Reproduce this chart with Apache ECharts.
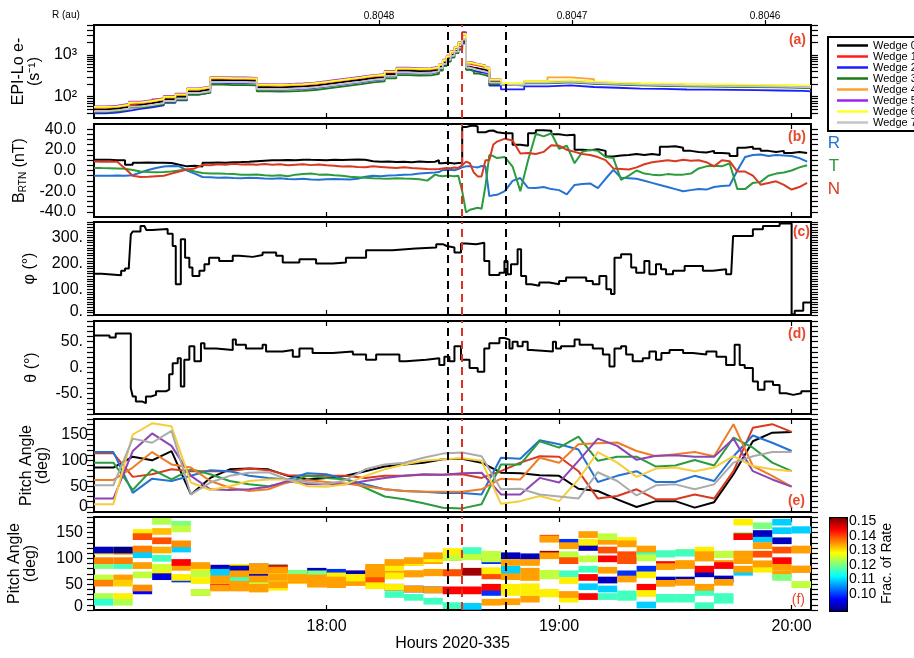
<!DOCTYPE html>
<html><head><meta charset="utf-8">
<script src="https://cdn.jsdelivr.net/npm/echarts@6/dist/echarts.min.js"></script>
<style>html,body{margin:0;padding:0;background:#fff}#c{width:914px;height:658px}</style>
</head><body><div id="c"></div>
<script>
// ---------------- DATA ----------------
const WEDGE_NAMES = ['Wedge 0','Wedge 1','Wedge 2','Wedge 3','Wedge 4','Wedge 5','Wedge 6','Wedge 7'];
const HOUR_TICKS = [18, 19, 20];
const R_TICKS = [0.8046, 0.8047, 0.8048];
const VLINES = [18.516, 18.580, 18.768];
const A_LABELS = [100, 1000];
const A_TICKS = [40,50,60,70,80,90,100,200,300,400,500,600,700,800,900,1000,2000,3000,4000,5000];
const B_LABELS = [-40, -20, 0, 20, 40];
const C_LABELS = [0, 100, 200, 300];
const D_LABELS = [-50, 0, 50];
const PA_LABELS = [0, 50, 100, 150];
const CB_LABELS = [0.10, 0.11, 0.12, 0.13, 0.14, 0.15];

// panel (a): minutes after 17:00, count rates per wedge
const A_MIN = [0,3,6,9,12,15,18,21,24,27,30,33,36,39,42,45,48,51,54,57,60,63,66,69,72,75,78,81,84,87,88,89,90,91,92,93,94,95,96,97,98,99,101,102,105,111,117,123,129,135,141,147,153,159,165,171,177,183,185];
const A_W0 = [50,52,57,64,70,78,88,100,135,150,250,245,245,240,170,168,172,176,185,200,217,235,255,280,295,350,420,410,415,430,440,520,650,800,1000,1250,1550,2100,525,500,480,440,400,229,190,215,228,209,200,192,188,182,180,178,175,172,168,165,165];
const A_W1 = [55,57,63,70,77,86,97,110,149,165,275,270,270,264,187,185,189,194,204,220,239,259,281,308,325,385,462,451,457,473,480,570,720,900,1150,1450,1900,3400,620,590,560,510,460,250,200,226,240,225,212,202,197,191,189,187,184,181,176,173,173];
const A_W2 = [40,42,46,51,56,62,71,82,112,125,215,210,212,208,148,146,150,154,162,175,190,206,224,246,260,308,370,360,365,378,380,450,560,700,880,1100,1350,1900,450,420,400,370,340,185,150,176,187,171,164,157,154,149,148,146,144,141,138,135,135];
const A_W3 = [43,45,49,55,60,66,74,84,112,125,195,190,190,186,135,132,135,138,145,157,170,184,200,220,232,275,330,322,326,338,350,420,540,690,880,1100,1400,2000,440,410,360,330,300,200,184,209,221,203,194,186,182,177,175,173,170,167,163,160,160];
const A_W4 = [56,58,64,72,78,87,99,112,151,168,280,274,274,269,190,188,193,197,207,224,243,263,286,314,330,392,470,459,465,482,490,580,740,920,1180,1500,1950,3000,650,620,590,540,480,255,205,240,290,265,215,207,203,197,194,192,189,186,181,178,178];
const A_W5 = [59,61,67,76,83,92,104,118,159,177,295,289,289,283,201,198,203,208,218,236,256,277,301,330,348,413,496,484,490,507,510,600,770,960,1230,1560,2050,3500,680,650,610,560,500,260,200,226,240,219,210,202,197,191,189,187,184,181,176,173,173];
const A_W6 = [57,59,65,73,80,89,100,114,154,171,285,279,279,274,194,192,196,201,211,228,247,268,291,319,336,399,479,467,473,490,500,590,750,940,1200,1530,2000,3200,660,630,600,550,490,258,209,237,251,230,220,211,207,200,198,196,193,189,185,182,182];
const A_W7 = [45,47,51,58,63,70,79,90,122,135,225,221,221,216,153,151,155,158,167,180,195,212,230,252,266,315,378,369,374,387,410,480,610,760,950,1200,1500,2400,500,470,440,400,370,220,192,217,230,211,202,194,190,184,182,180,177,174,170,167,167];

// panel (b): magnetic field (nT)
const B_MIN = [0,2,4,6,8,10,12,14,16,18,20,22,24,26,28,30,32,34,36,38,40,42,44,46,48,50,52,54,56,58,60,62,64,66,68,70,72,74,76,78,80,82,84,86,88,89,90,91,92,93,94,95,96,97,98,99,100,101,102,103,104,106,108,110,112,114,116,118,120,122,124,126,128,130,132,134,136,138,140,142,144,146,148,150,152,154,156,158,160,162,164,166,168,170,172,174,176,178,180,182,184];
const B_MAG = [10.5,10.3,10,10,5.5,7.5,7.8,7.6,7.5,7.3,5.5,4,4.5,3.8,7.5,7.8,7.6,8,8.2,8.5,9,9.5,9.8,10,10.2,10,10.5,10.3,10.2,10,10.5,10.2,10.4,10.6,10.5,9,8.5,8.8,8.2,8.4,8,8.6,8.2,8.5,10,7,7.5,7.2,6.8,7.2,7.5,42,43,43.5,42.5,37,37,38.5,38.7,37,36,36,25,24,36,39,38.5,35,34,34.5,20,19.5,20.5,19,13.5,14.5,15,16,15,16,15,23,23.5,22,19,18,17.5,19,17,16.5,14,22,23,21,19,18,19,17,18,17,16.5];
const B_R = [-5,-5.2,-5,-4.8,-5,-4.5,-2,0.5,2.5,3.8,4.4,4,0,-3,-6.3,-6.5,-7,-6.8,-7.2,-7.5,-7,-7.3,-7.8,-8,-7.5,-8.2,-8.5,-8,-8.8,-9,-8.5,-8.2,-8.5,-8.8,-8,-6,-5,-5.5,-4.8,-4.5,-4,-3.8,-3,-2.5,-2,-1.5,0.5,0.5,0.8,0.3,1.5,3,4,4.2,3.5,3,4.4,4,-24.8,-24,-23.5,-20,-10,-7.3,-16.8,-17,-16,-18,-19,-23,-14,-13,-12.5,-17,-8,0.6,-7,-7.5,-8,-10,-12,-14,-16,-18,-20,-19,-18,-18.5,-16,-15,-14.5,0,13,15,15.5,14,15,14.5,14,12,8.6];
const B_T = [2.5,2.3,2.2,2,1.8,0.5,-1,-1.5,-1.8,-1.5,-1,0,1,-1,-2.5,-3,-2.8,-3.2,-3.5,-4,-4.2,-3.8,-4.5,-5,-4.5,-5.5,-4,-3.5,-3,-4,-3.8,-4.5,-5,-6,-6.5,-7,-7.5,-7.8,-8,-7.5,-7.8,-8,-8.5,-9.8,-4,-5,-5.5,-5,-5.2,-5.5,-5,-20,-40.6,-38,-37,-36,-37,-15,15,14,12,13,3.8,-20,10,35.6,33,36,21,24,7,18,20,19,13,12,-9,-5,0,-3,-4,-4.5,-3.5,-4,-4,-3,2,4,4.5,4,7,-18,-18,-12,-11,-5,-3,-2,0,3,5];
const B_N = [8.6,8.5,8.8,8.5,2,-5,-6.3,-6,-5.5,-5,-3,-1,1,2,5.4,5,6,5.5,6.5,5.8,6,5.5,6.2,5.5,6,5,5.5,6,5.2,5.8,5,4.5,3.8,4,3.5,3.2,4,3.5,3,2.5,3.2,2.5,2,1.5,1.3,1.5,2,2.5,2.2,3,2.5,5,8.6,7,-2,-5.7,-5.7,10,10,25,28,30.8,29,16.5,17,16,18,24.4,24,20,18,16,15,13,10,2,1.5,1,3,6,8,9,10,9,10.5,9.5,10,8,4,10,9,-1,-1,-5,-13.7,-12,-10.5,-14,-18.4,-16,-12];

// panel (c): phi (deg)
const PHI_MIN = [0,2,7,8,9,9.5,10,12,13,13.5,15,19,20.3,21.1,22.4,23.5,24.6,25.4,27.2,28.5,29.7,32.3,35.8,37.5,41,43.5,47,48.7,53,57.3,61.6,65,70.2,77,83,88.3,90,91,93,94.7,96,98.6,100.7,102,104.6,105.9,106.7,107.6,109.3,110.2,111.5,112.8,114.9,117.5,120,121.8,127,128.7,130.4,132.2,133.4,134.3,136,138.6,139.9,142,143.3,145,146.3,147.6,149.4,152.4,157.1,159.7,163.1,164.4,164.9,170,172.6,176.9,180,180.8,183,185];
const PHI_VAL = [160,154,171,180,190,312,323,345,351,329,333,315,267,119,293,222,184,151,171,196,222,209,229,225,232,242,229,203,216,199,203,222,251,257,261,274,267,261,242,277,274,280,209,155,164,209,158,196,255,151,119,113,126,119,132,145,132,119,151,100,81,222,235,184,164,209,158,196,177,158,171,190,171,177,158,151,306,332,345,354,3,16,48,48];

// panel (d): theta (deg)
const TH_MIN = [0,4,5.6,9.5,10,10.8,12.5,13.4,14.7,16,18.6,19.4,20.3,21.6,22.4,23.3,24.6,25.9,27.6,28.5,31.5,35.8,36.6,39.2,43.5,44.4,48.7,51.3,53,56.4,61.6,66.8,70.2,72.8,78.8,80.5,85.7,89.1,90.4,91.7,93,94.7,96.9,99,100.7,102,104.6,105.9,107.2,108,109.3,110.6,111.9,112.8,118.4,119.2,120.5,124,125.3,128.7,131.3,133,134.3,136,137.3,139,141.6,143.3,145,146.4,148.5,152,154.5,158,160.6,163.1,165.3,166.6,167.9,170,171.3,173,175.2,176.9,178.6,180.4,182.5,185];
const TH_VAL = [62,58,66,-40,-56,-66,-69,-56,-53,-46,-43,-13,8,18,-37,15,41,12,47,37,34,54,44,37,44,31,34,21,37,28,31,25,15,25,12,15,18,5,21,12,41,15,-1,-8,37,47,57,54,37,50,41,50,34,31,50,37,41,54,44,37,25,2,37,41,25,12,18,31,15,28,34,28,25,31,21,5,44,5,-1,-27,-43,-27,-34,-50,-53,-50,-46,-46];

// panels (e)/(f): 5-minute bins, pitch angle (deg) and fraction of rate per wedge
const E_MIN = [0,5,10,15,20,25,30,35,40,45,50,55,60,65,70,75,80,85,90,95,100,105,110,115,120,125,130,135,140,145,150,155,160,165,170,175,180];
const BIN_MIN = 5;
const PA_W0 = [86,86,107,100,118,34,66,82.6,84,82.6,70,63,66,70,79,88,92,95.5,102,103,95.5,76,75,71,70,45,40.6,24.5,9.7,21,21,8.4,19,73,137,153.5,155];
const PA_W1 = [113.5,113.5,68,73,82.6,79,79,79,84,81,71,70,70,70,66,70,70,72,72,73,66,79,95.5,108,107,79,26,31,44,24.5,24.5,34,26,79,163,170,155];
const PA_W2 = [116,116,37,64.5,60,70,81,79,70,66,63,75,73,63,53.5,44,40.6,39,37,37,34,105,103,139,131,121,58,70,79,58,58,70,60,108,148,134,118];
const PA_W3 = [95.5,95.5,42.6,82.6,63,82.6,73,60,53.5,50,57,70,66,63,47,30,24.5,17,8.4,7,15,92,92,137,124.5,146,99,107,107,88,90,100.6,90,144,124.5,95.5,79];
const PA_W4 = [62,62,86,116,92,86,60,47,40.6,44,58,62,58,55,50,44,40.6,39,39,39,44,64.5,63,105,95.5,131,133,134.5,118,108,111.6,116,108,170,89,70,49];
const PA_W5 = [26,26,118,152,128,70,44,42.6,44,49,60,53.5,53.5,53.5,60,66,70,73,72,75,76,34,34,66,57,99,142,128,101,109,110,107,107,142,79,63,49];
const PA_W6 = [15,15,150,171.6,166,57,42.6,50,60,63,63,50,49,53.5,70,82.6,92,99,102,104,99,16,21,31,21,63,116,95.5,68,84,86,79,86,108,89,82.6,79];
const PA_W7 = [52,52,142,134,157,34,57,70,76,77,63,58,53.5,62,82.6,92,95.5,105,113,115,108,44,45,34,30,26,77,60,32,51.6,53.5,44,53.5,95.5,108,116,116];
const FR_W0 = [.121,.117,.11,.117,.11,.135,.135,.13,.11,.117,.117,.135,.135,.135,.135,.135,.135,.135,.135,.125,.1,.11,.135,.125,.117,.11,.11,.117,.11,.117,.117,.117,.117,.11,.11,.11,.11];
const FR_W1 = [.13,.135,.125,.13,.135,.135,.135,.093,.135,.145,.121,.117,.117,.093,.145,.135,.135,.135,.14,.151,.14,.11,.135,.151,.125,.117,.117,.117,.145,.117,.117,.117,.117,.135,.121,.11,.11];
const FR_W2 = [.093,.085,.097,.095,.1,.13,.093,.093,.093,.13,.135,.093,.1,.135,.135,.093,.1,.1,.145,.145,.1,.093,.093,.14,.1,.093,.093,.1,.1,.093,.093,.093,.093,.135,.093,.093,.135];
const FR_W3 = [.137,.137,.136,.126,.13,.13,.11,.117,.125,.13,.13,.121,.13,.13,.13,.117,.117,.117,.117,.11,.135,.135,.135,.135,.135,.135,.145,.14,.117,.145,.135,.135,.135,.121,.135,.145,.14];
const FR_W4 = [.125,.135,.135,.134,.145,.135,.135,.135,.135,.13,.135,.135,.135,.135,.13,.13,.135,.135,.145,.145,.145,.135,.135,.135,.14,.13,.135,.13,.135,.121,.121,.13,.125,.13,.135,.135,.125];
const FR_W5 = [.124,.13,.137,.133,.136,.125,.145,.135,.135,.135,.135,.135,.13,.135,.14,.13,.135,.135,.14,.151,.13,.13,.13,.125,.13,.125,.125,.135,.125,.117,.117,.135,.125,.145,.13,.121,.125];
const FR_W6 = [.116,.124,.13,.124,.121,.13,.135,.135,.135,.135,.13,.135,.135,.135,.135,.13,.13,.13,.125,.125,.125,.135,.135,.13,.13,.145,.14,.14,.13,.135,.135,.145,.145,.135,.135,.135,.135];
const FR_W7 = [.137,.132,.14,.14,.125,.125,.135,.135,.135,.135,.135,.135,.135,.13,.135,.135,.135,.135,.13,.117,.125,.13,.13,.13,.135,.145,.135,.135,.13,.135,.135,.135,.135,.135,.14,.14,.135];

// ---------------- CHART ----------------
const A_W = [A_W0,A_W1,A_W2,A_W3,A_W4,A_W5,A_W6,A_W7];
const PA_W = [PA_W0,PA_W1,PA_W2,PA_W3,PA_W4,PA_W5,PA_W6,PA_W7];
const FR_W = [FR_W0,FR_W1,FR_W2,FR_W3,FR_W4,FR_W5,FR_W6,FR_W7];
const FONT = '"Liberation Sans", Arial, Helvetica, sans-serif';
const COL_A = ['#000000','#ff1c1c','#1c1cff','#1a7a1a','#ffa033','#a020f0','#ffff22','#c4c4c4'];
const COL_E = ['#000000','#d93a1f','#2472d3','#2a9c3c','#ef7d26','#8c45b5','#f6cd3a','#ababab'];
const C_R = '#2472d3', C_T = '#2a9c3c', C_N = '#d93a1f';
const VCOL = ['#000000','#e03020','#000000'];
const JET = ['#00007f','#0000ff','#007fff','#00ffff','#7fff7f','#ffff00','#ff7f00','#ff0000','#7f0000'];
const hr = m => 17 + m / 60;
const XMIN = 17, XMAX = hr(185);
const range = (a, b, s) => { const r = []; for (let v = a; v <= b + 1e-9; v += s) r.push(+v.toFixed(6)); return r; };

const GTOP = [25, 124, 222, 321, 419, 517];
const grid = GTOP.map(t => ({left: 94, top: t, width: 717, height: 93, show: true, borderColor: '#000', borderWidth: 2, backgroundColor: 'transparent', outerBoundsMode: 'none'}));
grid.push({left: 829, top: 517, width: 17, height: 93, show: false, outerBoundsMode: 'none'});

const tickLine = {color: '#000', width: 1.2};
const xAxis = [], yAxis = [];
for (let g = 0; g < 6; g++) {
  xAxis.push({gridIndex: g, type: 'value', min: XMIN, max: XMAX, position: 'bottom', splitLine: {show: false},
    axisLine: {show: false, onZero: false},
    axisTick: {show: true, inside: true, length: 5, customValues: HOUR_TICKS, lineStyle: tickLine},
    axisLabel: {show: g === 5, customValues: HOUR_TICKS, formatter: v => v + ':00', margin: 9, color: '#000', fontSize: 16, fontFamily: FONT},
    name: g === 5 ? 'Hours 2020-335' : '', nameLocation: 'middle', nameGap: 26,
    nameTextStyle: {color: '#000', fontSize: 16, fontFamily: FONT}});
  if (g === 0) {
    xAxis.push({gridIndex: 0, type: 'value', position: 'top', inverse: true, min: 0.8045762, max: 0.8049477,
      splitLine: {show: false}, axisLine: {show: false, onZero: false},
      axisTick: {show: true, inside: false, length: 5, customValues: R_TICKS, lineStyle: tickLine},
      axisLabel: {show: true, customValues: R_TICKS, formatter: v => v.toFixed(4), margin: 4, color: '#000', fontSize: 10, fontFamily: FONT}});
  } else {
    xAxis.push({gridIndex: g, type: 'value', min: XMIN, max: XMAX, position: 'top', splitLine: {show: false},
      axisLine: {show: false, onZero: false},
      axisTick: {show: true, inside: true, length: 5, customValues: HOUR_TICKS, lineStyle: tickLine},
      axisLabel: {show: false}});
  }
}
xAxis.push({gridIndex: 6, type: 'value', show: false, min: 0, max: 1, axisLine: {onZero: false}});

function yPair(g, o) {
  const base = {gridIndex: g, type: o.type || 'value', min: o.min, max: o.max, splitLine: {show: false}, axisLine: {show: false, onZero: false}};
  if (o.type === 'log') base.logBase = 10;
  const zr = {z: {fontSize: 16, fontFamily: FONT, color: '#000', padding: [0, 0, o.zpad || 0, 0]}};
  yAxis.push(Object.assign({}, base, {position: 'left',
    axisTick: {show: true, inside: false, length: 7, customValues: o.ticks, lineStyle: tickLine},
    axisLabel: {show: true, customValues: o.labels, formatter: o.fmt, margin: o.margin, color: '#000', fontSize: 16, fontFamily: FONT, rich: zr},
    name: o.name, nameLocation: 'middle', nameGap: o.gap,
    nameTextStyle: {color: '#000', fontSize: 16, fontFamily: FONT, lineHeight: 16, rich: o.rich}}));
  yAxis.push(Object.assign({}, base, {position: 'right',
    axisTick: {show: true, inside: false, length: 7, customValues: o.ticks, lineStyle: tickLine},
    axisLabel: {show: false}}));
}
yPair(0, {type: 'log', min: 31, max: 5200, ticks: A_TICKS, labels: A_LABELS, fmt: v => (v === 100 ? '10²' : '10³'), margin: 17,
  name: 'EPI-Lo e-\n(s⁻¹)', gap: 51});
yPair(1, {min: -45, max: 45, ticks: range(-40, 40, 5), labels: B_LABELS, fmt: v => v.toFixed(1), margin: 18,
  name: '{b|B}{s|RTN}{b| (nT)}', gap: 59,
  rich: {b: {fontSize: 16, fontFamily: FONT, color: '#000', lineHeight: 18}, s: {fontSize: 10, fontFamily: FONT, color: '#000', lineHeight: 18, verticalAlign: 'bottom'}}});
yPair(2, {min: 0, max: 360, ticks: range(0, 360, 10), labels: C_LABELS, fmt: v => (v === 0 ? '{z|0.}' : v + '.'), margin: 11, zpad: 6,
  name: 'φ (°)', gap: 56});
yPair(3, {min: -90, max: 90, ticks: range(-90, 90, 10), labels: D_LABELS, fmt: v => v + '.', margin: 11,
  name: 'θ (°)', gap: 54});
yPair(4, {min: 0, max: 180, ticks: range(0, 180, 10), labels: PA_LABELS, fmt: v => (v === 0 ? '{z|0}' : String(v)), margin: 6, zpad: 10,
  name: 'Pitch Angle\n(deg)', gap: 39});
yPair(5, {min: 0, max: 180, ticks: range(0, 180, 10), labels: PA_LABELS, fmt: v => (v === 0 ? '{z|0}' : String(v)), margin: 11, zpad: 6,
  name: 'Pitch Angle\n(deg)', gap: 55});
yAxis.push({gridIndex: 6, type: 'value', position: 'right', min: 0.089, max: 0.153, splitLine: {show: false},
  axisLine: {show: false, onZero: false},
  axisTick: {show: true, inside: true, length: 4, customValues: range(0.09, 0.15, 0.005), lineStyle: tickLine},
  axisLabel: {show: true, customValues: CB_LABELS, formatter: v => v.toFixed(2), margin: 3, color: '#000', fontSize: 14, fontFamily: FONT},
  name: 'Frac. of Rate', nameLocation: 'middle', nameGap: 33,
  nameTextStyle: {color: '#000', fontSize: 14, fontFamily: FONT}});

function vmark() {
  return {symbol: 'none', silent: true, animation: false, label: {show: false},
    data: VLINES.map((v, i) => ({xAxis: v, lineStyle: {type: [8, 5], width: 2, color: VCOL[i]}}))};
}
const series = [];
// (a)
A_W.forEach((vals, w) => series.push({name: WEDGE_NAMES[w], type: 'line', step: 'end', xAxisIndex: 0, yAxisIndex: 0,
  symbol: 'none', color: COL_A[w], lineStyle: {width: 1.8, color: COL_A[w]},
  data: A_MIN.map((m, i) => [hr(m), vals[i]]), markLine: w === 7 ? vmark() : undefined}));
// (b)
series.push({name: '|B|', type: 'line', step: 'end', xAxisIndex: 2, yAxisIndex: 2, symbol: 'none', lineStyle: {width: 2, color: '#000'},
  data: B_MIN.map((m, i) => [hr(m), B_MAG[i]])});
[[B_R, C_R, 'R'], [B_T, C_T, 'T'], [B_N, C_N, 'N']].forEach(([arr, c, n], j) => series.push({name: n, type: 'line', xAxisIndex: 2, yAxisIndex: 2,
  symbol: 'none', lineStyle: {width: 2, color: c}, data: B_MIN.map((m, i) => [hr(m), arr[i]]), markLine: j === 2 ? vmark() : undefined}));
// (c),(d)
series.push({name: 'phi', type: 'line', step: 'end', xAxisIndex: 4, yAxisIndex: 4, symbol: 'none', lineStyle: {width: 2, color: '#000'},
  data: PHI_MIN.map((m, i) => [hr(m), PHI_VAL[i]]), markLine: vmark()});
series.push({name: 'theta', type: 'line', step: 'end', xAxisIndex: 6, yAxisIndex: 6, symbol: 'none', lineStyle: {width: 2, color: '#000'},
  data: TH_MIN.map((m, i) => [hr(m), TH_VAL[i]]), markLine: vmark()});
// (e)
PA_W.forEach((vals, w) => series.push({name: 'pa' + w, type: 'line', xAxisIndex: 8, yAxisIndex: 8, symbol: 'none',
  lineStyle: {width: 2, color: COL_E[w]}, data: E_MIN.map((m, k) => [hr(m), vals[k]]), markLine: w === 7 ? vmark() : undefined}));
// (f)
const fData = [];
for (let w = 0; w < 8; w++) for (let k = 0; k < E_MIN.length; k++)
  fData.push([hr(E_MIN[k]), hr(E_MIN[k] + BIN_MIN), PA_W[w][k], FR_W[w][k]]);
const HALF = 6.5;
const F_IDX = series.length;
series.push({name: 'frac', type: 'custom', xAxisIndex: 10, yAxisIndex: 10, data: fData, encode: {x: [0, 1], y: 2},
  renderItem: (params, api) => {
    const a = api.coord([api.value(0), api.value(2) + HALF]);
    const b = api.coord([api.value(1), api.value(2) - HALF]);
    const cs = params.coordSys;
    const shape = echarts.graphic.clipRectByRect({x: a[0], y: a[1], width: b[0] - a[0], height: b[1] - a[1]},
      {x: cs.x, y: cs.y, width: cs.width, height: cs.height});
    return shape && {type: 'rect', shape: shape, style: {fill: api.visual('color')}};
  }, markLine: vmark()});

const lbl = (t, x, y, bold, size) => ({type: 'text', x: x, y: y, z: 100,
  style: {text: t, fill: '#e8482c', font: (bold ? 'bold ' : '') + (size || 14) + 'px ' + FONT, align: 'right', verticalAlign: 'middle'}});
const graphic = [
  {type: 'text', x: 52, y: 15, style: {text: 'R (au)', fill: '#000', font: '10px ' + FONT, align: 'left', verticalAlign: 'middle'}},
  lbl('(a)', 806, 40, true), lbl('(b)', 806, 137, true), lbl('(c)', 810, 232, true), lbl('(d)', 806, 334, true),
  lbl('(e)', 805, 501, true), lbl('(f)', 805, 600, false),
  {type: 'text', x: 834, y: 143, style: {text: 'R', fill: C_R, font: '17px ' + FONT, align: 'center', verticalAlign: 'middle'}},
  {type: 'text', x: 834, y: 166, style: {text: 'T', fill: C_T, font: '17px ' + FONT, align: 'center', verticalAlign: 'middle'}},
  {type: 'text', x: 834, y: 189, style: {text: 'N', fill: C_N, font: '17px ' + FONT, align: 'center', verticalAlign: 'middle'}}
];

const chart = echarts.init(document.getElementById('c'), null, {renderer: 'canvas'});
chart.setOption({
  animation: false,
  backgroundColor: '#fff',
  textStyle: {fontFamily: FONT},
  grid, xAxis, yAxis, series, graphic,
  legend: {data: WEDGE_NAMES, orient: 'vertical', left: 828, top: 37, padding: [3, 4, 3, 9], itemGap: 0,
    itemWidth: 31, itemHeight: 2.5, icon: 'rect', borderColor: '#000', borderWidth: 2, selectedMode: false,
    textStyle: {fontSize: 11, fontFamily: FONT, color: '#000', lineHeight: 10.7}},
  visualMap: {type: 'continuous', min: 0.089, max: 0.153, dimension: 3, seriesIndex: F_IDX, left: 829, top: 517,
    itemWidth: 17, itemHeight: 93, calculable: false, showLabel: false, text: null, padding: 0,
    borderColor: '#000', borderWidth: 2, inRange: {color: JET}, outOfRange: {color: '#000000'}}
});
</script></body></html>
